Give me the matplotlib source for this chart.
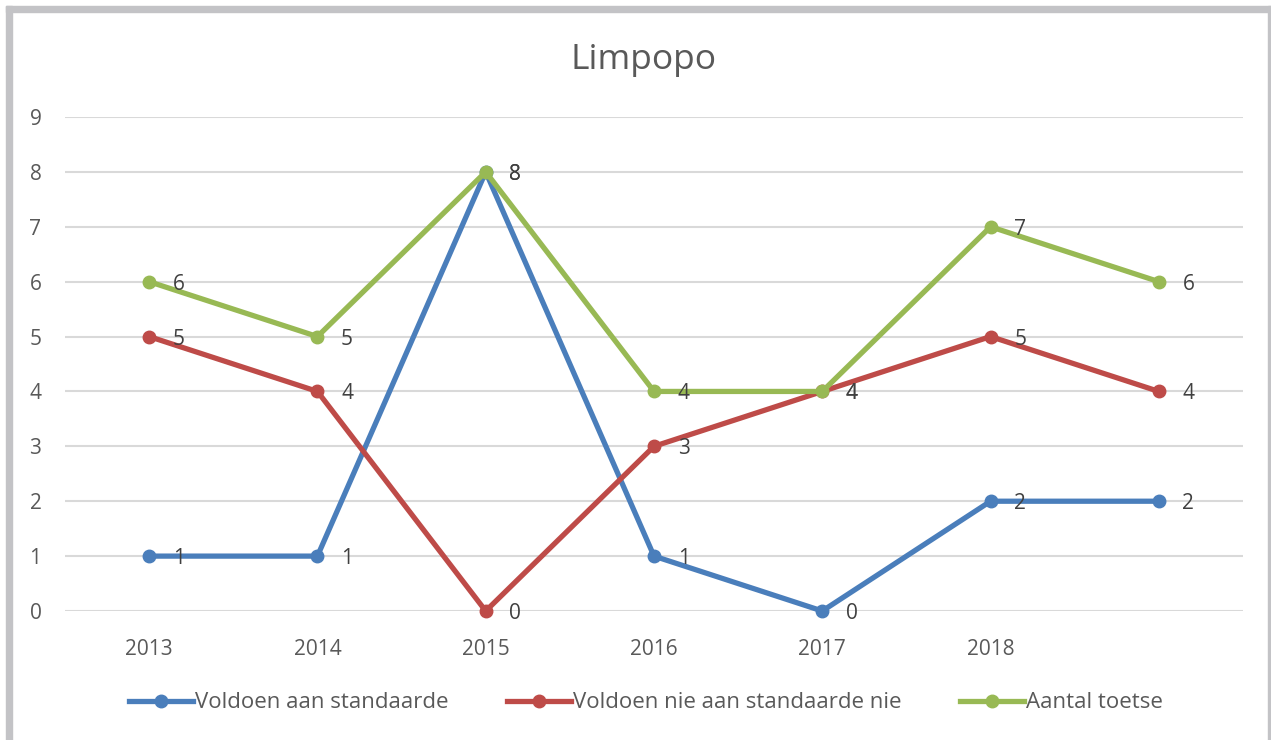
import matplotlib
matplotlib.use("Agg")
import matplotlib.pyplot as plt
from matplotlib.patches import Rectangle

plt.rcParams['font.family'] = ['Open Sans', 'DejaVu Sans']

years = ['2013', '2014', '2015', '2016', '2017', '2018', '']
voldoen = [1, 1, 8, 1, 0, 2, 2]
nie_voldoen = [5, 4, 0, 3, 4, 5, 4]
aantal = [6, 5, 8, 4, 4, 7, 6]

series = [
    ('Voldoen aan standaarde', voldoen, '#4A7EBB'),
    ('Voldoen nie aan standaarde nie', nie_voldoen, '#BE4B48'),
    ('Aantal toetse', aantal, '#98B954'),
]

text_color = '#595959'

fig = plt.figure(figsize=(12.71, 7.40), dpi=100)
ax = fig.add_axes([65 / 1271, 1 - 611 / 740, (1243 - 65) / 1271, (611 - 117) / 740])

x = list(range(len(years)))

for name, vals, col in series:
    ax.plot(x, vals, color=col, lw=3.8, marker='o', markersize=9,
            label=name, clip_on=False, zorder=3, solid_joinstyle='round')
    for xi, v in zip(x, vals):
        ax.annotate(str(v), (xi, v), xytext=(17, 0), textcoords='offset points',
                    ha='left', va='center_baseline', fontsize=15, color='#404040',
                    zorder=4)

ax.set_xlim(-0.5, 6.5)
ax.set_ylim(0, 9)
ax.set_yticks(range(10))
ax.set_xticks(x)
ax.set_xticklabels(years)
ax.tick_params(axis='both', length=0, labelsize=15, colors=text_color)
ax.tick_params(axis='x', pad=20)
ax.tick_params(axis='y', pad=17)
ax.grid(axis='y', color='#D9D9D9', lw=1.5)
ax.set_axisbelow(True)
for s in ax.spines.values():
    s.set_visible(False)

fig.text(643 / 1271, 1 - 60 / 740, 'Limpopo', ha='center', va='center',
         fontsize=25.5, color=text_color)

fig.legend(loc='center', bbox_to_anchor=(646 / 1271, 1 - 703 / 740), ncol=3,
           frameon=False, fontsize=16, labelcolor=text_color,
           handlelength=2.9, handletextpad=0.1, columnspacing=2.6)

# grey frame around the chart
border = '#C3C3C6'
fig.patches.append(Rectangle((6 / 1271, 0), 6 / 1271, 1 - 6 / 740,
                             transform=fig.transFigure, color=border))
fig.patches.append(Rectangle((6 / 1271, 1 - 12 / 740), 1 - 6 / 1271, 6 / 740,
                             transform=fig.transFigure, color=border))
fig.patches.append(Rectangle((1268 / 1271, 0), 3 / 1271, 1 - 6 / 740,
                             transform=fig.transFigure, color=border))

fig.savefig('out.png', dpi=100)
